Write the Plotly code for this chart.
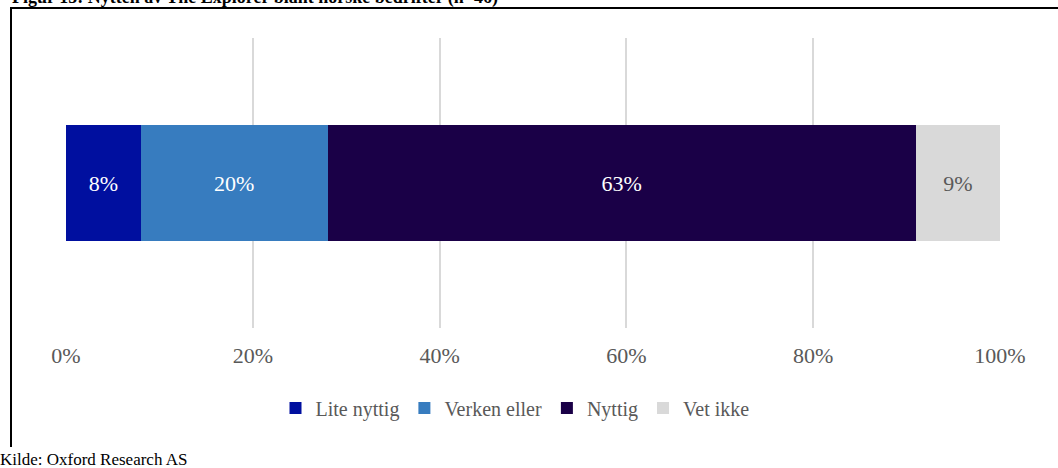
import plotly.graph_objects as go

# Survey answers (n=46), share of companies in percent
categories = ["Lite nyttig", "Verken eller", "Nyttig", "Vet ikke"]
shares = [8, 20, 63, 9]
colors = ["#000F9F", "#377CBF", "#1A0047", "#D9D9D9"]
label_colors = ["#FFFFFF", "#FFFFFF", "#FFFFFF", "#595959"]
tick_values = [0, 20, 40, 60, 80, 100]
tick_labels = ["0%", "20%", "40%", "60%", "80%", "100%"]

W, H = 1058, 468
L, R, T, B = 66, 58, 38, 140
pw, ph = W - L - R, H - T - B


def px_x(x):
    return (x - L) / pw


def px_y(y):
    return (H - B - y) / ph


serif = "Liberation Serif, Times New Roman, serif"

fig = go.Figure()
for name, val, col, lc in zip(categories, shares, colors, label_colors):
    fig.add_trace(go.Bar(
        x=[val], y=[""], orientation="h", name=name,
        marker=dict(color=col, line=dict(width=0)),
        text=[f"{val}%"], textposition="inside", insidetextanchor="middle",
        textfont=dict(family=serif, size=22, color=lc),
        hoverinfo="skip",
    ))

fig.update_layout(
    width=W, height=H,
    margin=dict(l=L, r=R, t=T, b=B),
    barmode="stack", bargap=0.597,
    plot_bgcolor="white", paper_bgcolor="white",
    uniformtext=dict(minsize=22, mode="show"),
    xaxis=dict(
        range=[0, 100], tickvals=tick_values, ticktext=tick_labels,
        showgrid=True, gridcolor="#D9D9D9", gridwidth=1.5,
        zeroline=False, showline=False, ticks="",
        ticklabelstandoff=12,
        tickfont=dict(family=serif, size=22, color="#595959"),
        fixedrange=True,
    ),
    yaxis=dict(showticklabels=False, showgrid=False, zeroline=False,
               range=[-0.5, 0.5], fixedrange=True),
    legend=dict(
        orientation="h", x=px_x(515), xanchor="center",
        y=px_y(408), yanchor="middle",
        font=dict(family=serif, size=20, color="#595959"),
        traceorder="normal", itemwidth=30,
    ),
    showlegend=True,
    shapes=[
        # frame: left and top border
        dict(type="line", xref="paper", yref="paper",
             x0=px_x(11), x1=px_x(11), y0=px_y(8), y1=px_y(447),
             line=dict(color="black", width=2)),
        dict(type="line", xref="paper", yref="paper",
             x0=px_x(10), x1=px_x(1060), y0=px_y(8), y1=px_y(8),
             line=dict(color="black", width=2)),
    ],
    annotations=[
        dict(text="<b>Figur 15: Nytten av The Explorer blant norske bedrifter (n=46)</b>",
             xref="paper", yref="paper", x=px_x(10), y=px_y(10),
             xanchor="left", yanchor="bottom", showarrow=False,
             font=dict(family=serif, size=18, color="black")),
        dict(text="Kilde: Oxford Research AS",
             xref="paper", yref="paper", x=px_x(-2), y=px_y(459),
             xanchor="left", yanchor="middle", showarrow=False,
             font=dict(family=serif, size=17, color="black")),
    ],
)

fig.write_html("out.html")
